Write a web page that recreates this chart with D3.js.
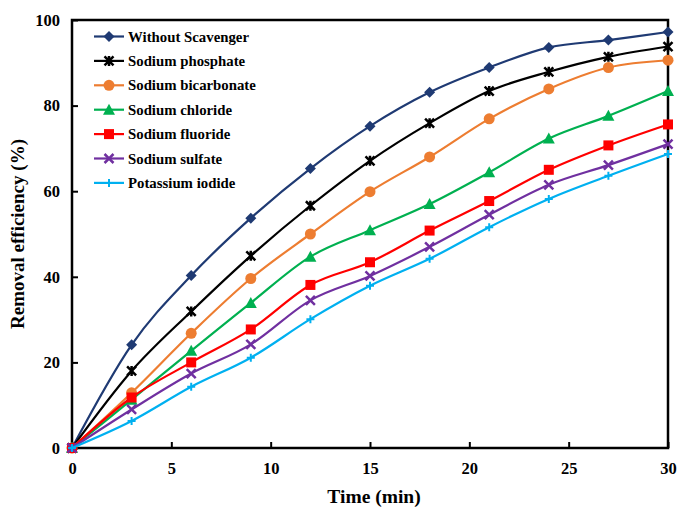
<!DOCTYPE html>
<html>
<head>
<meta charset="utf-8">
<script src="https://cdn.jsdelivr.net/npm/d3@7"></script>
<style>
  body { margin: 0; background: #fff; }
  text { font-family: "Liberation Serif", "Times New Roman", serif; font-weight: bold; fill: #000; }
</style>
</head>
<body>
<div id="chart"></div>
<script>
// data
const times = [0, 3, 6, 9, 12, 15, 18, 21, 24, 27, 30]
const withoutScavenger = [0, 24.1, 40.3, 53.7, 65.3, 75.2, 83.1, 88.9, 93.6, 95.3, 97.2]
const sodiumPhosphate = [0, 18, 31.9, 44.9, 56.6, 67.1, 75.9, 83.4, 87.9, 91.4, 93.8]
const sodiumBicarbonate = [0, 12.9, 26.8, 39.6, 50, 59.9, 68, 76.9, 83.9, 88.9, 90.6]
const sodiumChloride = [0, 11.3, 22.7, 33.9, 44.7, 50.9, 57, 64.4, 72.3, 77.6, 83.4]
const sodiumFluoride = [0, 11.8, 20, 27.7, 38.1, 43.4, 50.8, 57.7, 65, 70.7, 75.6]
const sodiumSulfate = [0, 9, 17.4, 24.2, 34.5, 40.2, 47, 54.5, 61.5, 66.1, 71]
const potassiumIodide = [0, 6.3, 14.3, 21.1, 30.1, 37.9, 44.2, 51.6, 58.2, 63.6, 68.7]

const seriesNames = ["Without Scavenger", "Sodium phosphate", "Sodium bicarbonate", "Sodium chloride", "Sodium fluoride", "Sodium sulfate", "Potassium iodide"]
const seriesValues = [withoutScavenger, sodiumPhosphate, sodiumBicarbonate, sodiumChloride, sodiumFluoride, sodiumSulfate, potassiumIodide]
const colors = ["#1f3a73", "#000000", "#ed7d31", "#00b050", "#ff0000", "#7030a0", "#00b0f0"]
const markers = ["diamond", "star", "circle", "triangle", "square", "x", "plus"]

const xTicks = [0, 5, 10, 15, 20, 25, 30]
const yTicks = [0, 20, 40, 60, 80, 100]

const width = 677, height = 510
const margin = {left: 72, right: 9, top: 20, bottom: 62}

const svg = d3.select("#chart").append("svg")
    .attr("width", width)
    .attr("height", height)

const x = d3.scaleLinear().domain([0, 30]).range([margin.left, width - margin.right])
const y = d3.scaleLinear().domain([0, 100]).range([height - margin.bottom, margin.top])

// inward ticks
const xAxis = svg.append("g")
    .attr("transform", `translate(0,${y(0)})`)
    .call(d3.axisBottom(x).tickValues(xTicks).tickSizeInner(-6).tickSizeOuter(0).tickPadding(14))
const yAxis = svg.append("g")
    .attr("transform", `translate(${x(0)},0)`)
    .call(d3.axisLeft(y).tickValues(yTicks).tickSizeInner(-6).tickSizeOuter(0).tickPadding(12))

svg.selectAll(".domain").remove()
svg.selectAll(".tick line").attr("stroke", "#000").attr("stroke-width", 2)
svg.selectAll(".tick text").style("font-size", "16.5px")

// frame
svg.append("rect")
    .attr("x", x(0)).attr("y", y(100))
    .attr("width", x(30) - x(0)).attr("height", y(0) - y(100))
    .attr("fill", "none").attr("stroke", "#000").attr("stroke-width", 2.5)

svg.append("text")
    .attr("x", (x(0) + x(30)) / 2 + 4)
    .attr("y", 503)
    .attr("text-anchor", "middle")
    .style("font-size", "19.5px")
    .text("Time (min)")

svg.append("text")
    .attr("transform", `translate(24,${(y(0) + y(100)) / 2}) rotate(-90)`)
    .attr("text-anchor", "middle")
    .style("font-size", "19px")
    .text("Removal efficiency (%)")

const line = d3.line()
    .x((d, i) => x(times[i]))
    .y(d => y(d))
    .curve(d3.curveCardinal.tension(0))

function drawMarker(g, type, color, cx, cy) {
    if (type == "diamond") {
        g.append("path").attr("d", `M${cx},${cy-5.5}L${cx+5.5},${cy}L${cx},${cy+5.5}L${cx-5.5},${cy}Z`).attr("fill", color)
    } else if (type == "circle") {
        g.append("circle").attr("cx", cx).attr("cy", cy).attr("r", 5.5).attr("fill", color)
    } else if (type == "triangle") {
        g.append("path").attr("d", `M${cx},${cy-6}L${cx+6},${cy+5}L${cx-6},${cy+5}Z`).attr("fill", color)
    } else if (type == "square") {
        g.append("rect").attr("x", cx - 5).attr("y", cy - 5).attr("width", 10).attr("height", 10).attr("fill", color)
    } else if (type == "x") {
        g.append("path").attr("d", `M${cx-4.5},${cy-4.5}L${cx+4.5},${cy+4.5}M${cx-4.5},${cy+4.5}L${cx+4.5},${cy-4.5}`)
            .attr("stroke", color).attr("stroke-width", 2.5)
    } else if (type == "star") {
        g.append("path").attr("d", `M${cx-4.5},${cy-4.5}L${cx+4.5},${cy+4.5}M${cx-4.5},${cy+4.5}L${cx+4.5},${cy-4.5}M${cx},${cy-5}L${cx},${cy+5}`)
            .attr("stroke", color).attr("stroke-width", 2.5)
    } else if (type == "plus") {
        g.append("path").attr("d", `M${cx-4},${cy}L${cx+4},${cy}M${cx},${cy-4}L${cx},${cy+4}`)
            .attr("stroke", color).attr("stroke-width", 2)
    }
}

const plot = svg.append("g")

seriesValues.forEach(function(vals, k) {
    const g = plot.append("g")
    g.append("path")
        .datum(vals)
        .attr("fill", "none")
        .attr("stroke", colors[k])
        .attr("stroke-width", 2.2)
        .attr("d", line)
    vals.forEach(function(v, i) {
        drawMarker(g, markers[k], colors[k], x(times[i]), y(v))
    })
})

// legend
const legend = svg.append("g")
seriesNames.forEach(function(name, k) {
    const ly = 36.5 + k * 24.4
    legend.append("line")
        .attr("x1", 94).attr("x2", 124)
        .attr("y1", ly).attr("y2", ly)
        .attr("stroke", colors[k]).attr("stroke-width", 2.2)
    drawMarker(legend, markers[k], colors[k], 109, ly)
    legend.append("text")
        .attr("x", 128)
        .attr("y", ly + 5)
        .style("font-size", "14.8px")
        .text(name)
})
</script>
</body>
</html>
